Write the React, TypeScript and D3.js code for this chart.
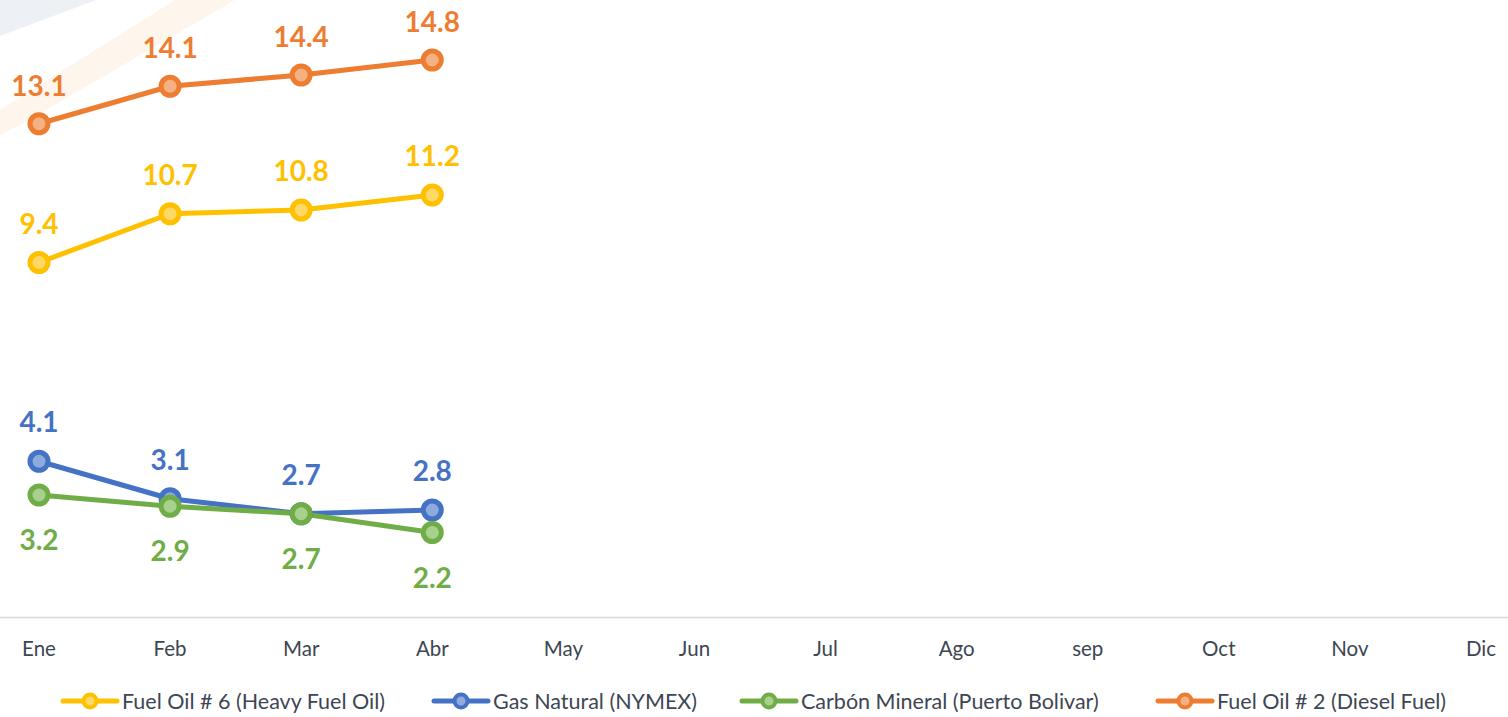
import React from "react";
import * as d3 from "d3";

const months = ["Ene", "Feb", "Mar", "Abr", "May", "Jun", "Jul", "Ago", "sep", "Oct", "Nov", "Dic"];
const fuelOil6 = [9.4, 10.7, 10.8, 11.2];
const gasNatural = [4.1, 3.1, 2.7, 2.8];
const carbon = [3.2, 2.9, 2.7, 2.2];
const fuelOil2 = [13.1, 14.1, 14.4, 14.8];

const seriesNames = [
  "Fuel Oil # 6 (Heavy Fuel Oil)",
  "Gas Natural (NYMEX)",
  "Carbón Mineral (Puerto Bolivar)",
  "Fuel Oil # 2 (Diesel Fuel)",
];

const W = 1508;
const H = 717;
const FONT = "Lato, 'Open Sans', sans-serif";

export default function App() {
  const x = d3.scalePoint<string>().domain(months).range([39, 1481]);
  const y = d3.scaleLinear().domain([0, 16]).range([615, 15]);

  const series = [
    { name: seriesNames[0], values: fuelOil6, color: "#FFC000", fill: "#FFD966", labelDy: -40, legendX: 90 },
    { name: seriesNames[1], values: gasNatural, color: "#4472C4", fill: "#8FAADC", labelDy: -40, legendX: 461 },
    { name: seriesNames[2], values: carbon, color: "#70AD47", fill: "#A9D18E", labelDy: 44, legendX: 769 },
    { name: seriesNames[3], values: fuelOil2, color: "#ED7D31", fill: "#F4B183", labelDy: -39, legendX: 1185 },
  ];

  const line = d3
    .line<number>()
    .x((_, i) => x(months[i]) as number)
    .y((d) => y(d));

  return (
    <svg
      width={W}
      height={H}
      style={{ position: "absolute", left: 0, top: 0, background: "#fff" }}
      fontFamily={FONT}
    >
      {/* faint watermark */}
      <polygon points="0,0 96,0 0,36" fill="#e6e9ef" opacity={0.7} />
      <polygon points="175,0 235,0 20,125 0,135 0,110" fill="#fef5ec" />

      {/* axis line */}
      <line x1={0} x2={W} y1={617.5} y2={617.5} stroke="#d9d9d9" strokeWidth={1.5} />

      {/* tick labels */}
      {months.map((m) => (
        <text key={m} x={x(m)} y={656} textAnchor="middle" fontSize={20.5} fill="#3d4653">
          {m}
        </text>
      ))}

      {/* lines */}
      {series.map((s) => (
        <path
          key={s.name + "l"}
          d={line(s.values) || ""}
          fill="none"
          stroke={s.color}
          strokeWidth={5}
          strokeLinejoin="round"
          strokeLinecap="round"
        />
      ))}

      {/* markers */}
      {series.map((s) =>
        s.values.map((v, i) => (
          <circle
            key={s.name + "m" + i}
            cx={x(months[i])}
            cy={y(v)}
            r={9}
            fill={s.fill}
            stroke={s.color}
            strokeWidth={5}
          />
        ))
      )}

      {/* data labels */}
      {series.map((s) =>
        s.values.map((v, i) => (
          <text
            key={s.name + "t" + i}
            x={x(months[i])}
            y={y(v) + s.labelDy}
            textAnchor="middle"
            dominantBaseline="central"
            fontSize={28}
            fontWeight={700}
            fill={s.color}
          >
            {v.toFixed(1)}
          </text>
        ))
      )}

      {/* legend */}
      {series.map((s) => (
        <g key={s.name + "lg"}>
          <line
            x1={s.legendX - 27}
            x2={s.legendX + 27}
            y1={701}
            y2={701}
            stroke={s.color}
            strokeWidth={5}
            strokeLinecap="round"
          />
          <circle cx={s.legendX} cy={701} r={6.5} fill={s.fill} stroke={s.color} strokeWidth={4} />
          <text x={s.legendX + 32} y={701} dominantBaseline="central" fontSize={21.5} fill="#3d4653">
            {s.name}
          </text>
        </g>
      ))}
    </svg>
  );
}
